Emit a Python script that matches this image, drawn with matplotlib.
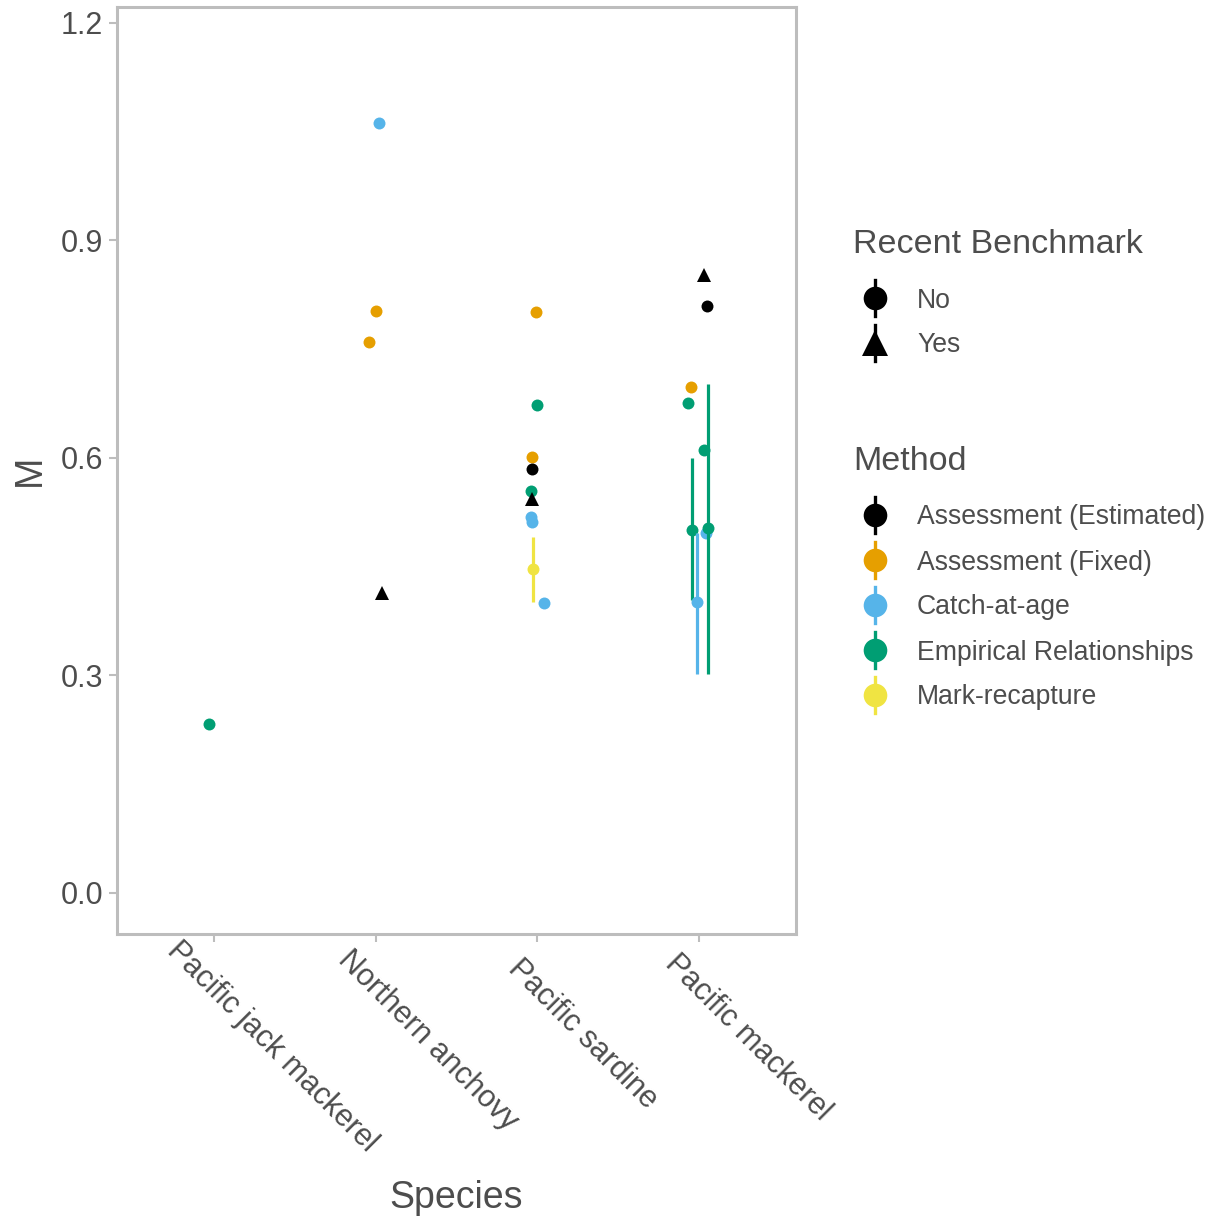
import numpy as np
import matplotlib
matplotlib.use("Agg")
import matplotlib.pyplot as plt
from matplotlib.lines import Line2D
import matplotlib.transforms as mtransforms

plt.rcParams['font.family'] = ['Liberation Sans', 'DejaVu Sans']

# ---------------- data ----------------
species = ["Pacific jack mackerel", "Northern anchovy", "Pacific sardine", "Pacific mackerel"]
methods = ["Assessment (Estimated)", "Assessment (Fixed)", "Catch-at-age",
           "Empirical Relationships", "Mark-recapture"]
method_colors = ["#000000", "#E69F00", "#56B4E9", "#009E73", "#F0E442"]
benchmarks = ["No", "Yes"]
y_ticks = [0.0, 0.3, 0.6, 0.9, 1.2]

pt_species = [0, 1, 1, 1, 1, 2, 2, 2, 2, 2, 2, 2, 2, 2, 2, 3, 3, 3, 3, 3, 3, 3, 3, 3]
pt_method = [3, 2, 1, 1, 0, 1, 3, 1, 0, 3, 0, 2, 2, 4, 2, 0, 0, 1, 3, 3, 2, 3, 2, 3]
pt_recent = [0, 0, 0, 0, 1, 0, 0, 0, 0, 0, 1, 0, 0, 0, 0, 1, 0, 0, 0, 0, 0, 0, 0, 0]
pt_M = [0.233, 1.062, 0.802, 0.759, 0.414, 0.801, 0.673, 0.601, 0.585, 0.554, 0.543,
        0.519, 0.512, 0.447, 0.400, 0.852, 0.810, 0.698, 0.676, 0.611, 0.497, 0.501,
        0.401, 0.503]
pt_lo = [np.nan] * 13 + [0.401] + [np.nan] * 7 + [0.404, 0.302, 0.302]
pt_hi = [np.nan] * 13 + [0.491] + [np.nan] * 7 + [0.600, 0.497, 0.702]
pt_jitter = [-0.031, 0.019, 0.0, -0.043, 0.037, -0.006, 0.0, -0.031, -0.031, -0.037,
             -0.031, -0.037, -0.031, -0.025, 0.043, 0.031, 0.05, -0.05, -0.068, 0.031,
             0.043, -0.043, -0.012, 0.056]

# ---------------- figure ----------------
W, H = 1215, 1218
fig = plt.figure(figsize=(W / 100, H / 100), dpi=100)
ax_l, ax_r, ax_t, ax_b = 117, 796, 7, 934
ax = fig.add_axes([ax_l / W, 1 - ax_b / H, (ax_r - ax_l) / W, (ax_b - ax_t) / H])

txt_col = "#4D4D4D"
grid_col = "#BDBDBD"
ytick_fs = 22
xtick_fs = 22
leg_fs = 19.2
leg_title_fs = 24.5
title_fs = 27

for i in range(len(pt_M)):
    x = pt_species[i] + 1 + pt_jitter[i]
    col = method_colors[pt_method[i]]
    z = 3 + i * 0.01
    if not np.isnan(pt_lo[i]):
        ax.vlines(x, pt_lo[i], pt_hi[i], color=col, lw=2.3, zorder=z)
    mk = 'o' if pt_recent[i] == 0 else '^'
    ms = 8.6 if mk == 'o' else 9.8
    ax.plot([x], [pt_M[i]], marker=mk, ms=ms, color=col, mew=0, ls='none', zorder=z + 0.001)

ax.set_xlim(0.4, 4.6)
ax.set_ylim(-0.0566, 1.2216)
ax.set_yticks(y_ticks)
ax.set_yticklabels([f"{v:.1f}" for v in y_ticks])
ax.set_xticks(range(1, len(species) + 1))
ax.set_xticklabels([])
for s in ax.spines.values():
    s.set_color(grid_col)
    s.set_linewidth(2.2)
ax.tick_params(axis='both', colors=grid_col, width=1.5, length=6, labelcolor=txt_col,
               labelsize=ytick_fs, pad=4)

# rotated x tick labels (ggplot-like hjust ~0.3)
fig.canvas.draw()
renderer = fig.canvas.get_renderer()
base = mtransforms.blended_transform_factory(ax.transData, ax.transAxes)
for i, name in enumerate(species):
    tmp = fig.text(0, 0, name, fontsize=xtick_fs)
    L = tmp.get_window_extent(renderer).width
    tmp.remove()
    shift = 0.3 * L * 0.7071
    dx = 12 - shift
    dy = -(78 - shift)
    tr = mtransforms.offset_copy(base, fig=fig, x=dx, y=dy, units='dots')
    ax.text(i + 1, 0, name, transform=tr, rotation=-45, rotation_mode='anchor',
            ha='left', va='baseline', fontsize=xtick_fs, color=txt_col, clip_on=False)

# axis titles
fig.text(456 / W, 1 - 1198 / H, "Species", ha='center', va='center', fontsize=title_fs, color=txt_col)
fig.text(30 / W, 1 - 470 / H, "M", ha='center', va='center', rotation=90, fontsize=title_fs, color=txt_col)

# ---------------- legends (drawn manually) ----------------
def fx(px):
    return px / W

def fy(py):
    return 1 - py / H

key_x = 875
lab_x = 917

fig.text(fx(853), fy(253), "Recent Benchmark", fontsize=leg_title_fs, color=txt_col, va='baseline')
for j, (lab, mk) in enumerate(zip(benchmarks, ['o', '^'])):
    yc = 298 + j * 45
    fig.add_artist(Line2D([fx(key_x)] * 2, [fy(yc - 18), fy(yc + 18)], color='black',
                          lw=2.4, transform=fig.transFigure))
    fig.add_artist(Line2D([fx(key_x)], [fy(yc)], marker=mk, ms=17 if mk == 'o' else 18.5,
                          color='black', mew=0, ls='none', transform=fig.transFigure))
    fig.text(fx(lab_x), fy(yc + 9.5), lab, fontsize=leg_fs, color=txt_col, va='baseline')

fig.text(fx(853), fy(470), "Method", fontsize=leg_title_fs, color=txt_col, va='baseline')
for j, lab in enumerate(methods):
    yc = 515 + j * 45
    fig.add_artist(Line2D([fx(key_x)] * 2, [fy(yc - 18), fy(yc + 18)], color=method_colors[j],
                          lw=2.4, transform=fig.transFigure))
    fig.add_artist(Line2D([fx(key_x)], [fy(yc)], marker='o', ms=17, color=method_colors[j],
                          mew=0, ls='none', transform=fig.transFigure))
    fig.text(fx(lab_x), fy(yc + 9.5), lab, fontsize=leg_fs, color=txt_col, va='baseline')

fig.savefig("out.png", dpi=100)
